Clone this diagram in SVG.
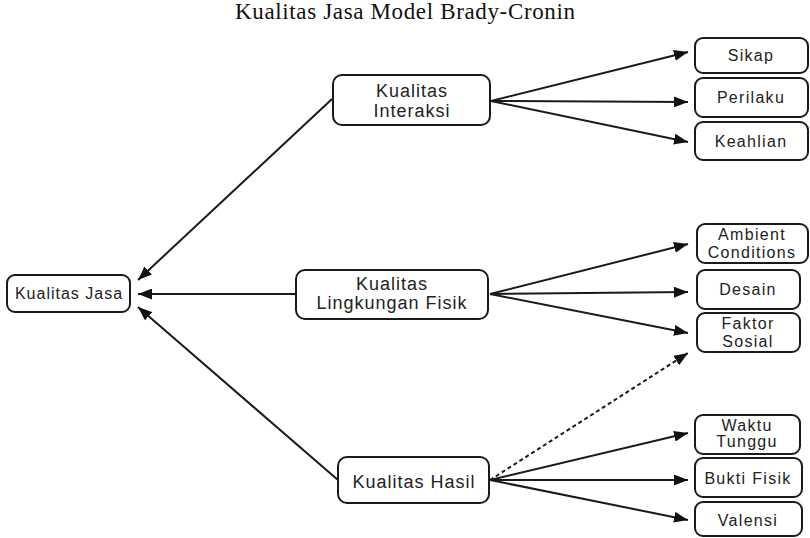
<svg xmlns="http://www.w3.org/2000/svg" width="810" height="538" viewBox="0 0 810 538">
<style>
.box{fill:#fff;stroke:#1a1a1a;stroke-width:2}
.lbl{font-family:"Liberation Sans",Arial,sans-serif;fill:#222;text-anchor:middle}
.mid{font-size:18px;letter-spacing:1px}
.sm{font-size:16px;letter-spacing:1.3px}
.ttl{font-family:"Liberation Serif","Times New Roman",serif;font-size:23px;fill:#111;text-anchor:middle}
.con{stroke:#1a1a1a;stroke-width:2;fill:none}
.dash{stroke-dasharray:4 3}
</style>
<defs>
<marker id="ah" markerUnits="userSpaceOnUse" markerWidth="15" markerHeight="11" refX="14" refY="5.5" orient="auto">
<path d="M0,0 L14,5.5 L0,11 z" fill="#111"/>
</marker>
</defs>
<rect width="810" height="538" fill="#fff"/>
<text class="ttl" x="405" y="19" textLength="340">Kualitas Jasa Model Brady-Cronin</text>
<g id="connectors">
<path class="con" d="M332 99 L138 280" marker-end="url(#ah)"/>
<path class="con" d="M296 294 L138 294" marker-end="url(#ah)"/>
<path class="con" d="M338 480 L138 307" marker-end="url(#ah)"/>
<path class="con" d="M491 101 L688 52" marker-end="url(#ah)"/>
<path class="con" d="M491 101 L688 102" marker-end="url(#ah)"/>
<path class="con" d="M491 101 L688 142" marker-end="url(#ah)"/>
<path class="con" d="M490 294 L688 244" marker-end="url(#ah)"/>
<path class="con" d="M490 294 L688 292" marker-end="url(#ah)"/>
<path class="con" d="M490 294 L688 333" marker-end="url(#ah)"/>
<path class="con dash" d="M490 480 L688 353" marker-end="url(#ah)"/>
<path class="con" d="M490 480 L688 433" marker-end="url(#ah)"/>
<path class="con" d="M490 480 L688 480" marker-end="url(#ah)"/>
<path class="con" d="M490 480 L688 520" marker-end="url(#ah)"/>
</g>
<g id="kualitas-jasa">
<rect class="box" x="7" y="275" width="123" height="37" rx="8"/>
<text class="lbl" x="69" y="299" font-size="16" letter-spacing="1">Kualitas Jasa</text>
</g>
<g id="kualitas-interaksi">
<rect class="box" x="333" y="75" width="157" height="50" rx="9"/>
<text class="lbl mid" x="412" y="97">Kualitas</text>
<text class="lbl mid" x="412" y="117">Interaksi</text>
</g>
<g id="kualitas-lingkungan-fisik">
<rect class="box" x="296" y="270" width="192" height="49" rx="9"/>
<text class="lbl mid" x="392" y="290">Kualitas</text>
<text class="lbl mid" x="392" y="309">Lingkungan Fisik</text>
</g>
<g id="kualitas-hasil">
<rect class="box" x="338" y="457" width="151" height="46" rx="9"/>
<text class="lbl mid" x="414" y="488">Kualitas Hasil</text>
</g>
<g id="sikap">
<rect class="box" x="695" y="38" width="113" height="35" rx="8"/>
<text class="lbl sm" x="751" y="61">Sikap</text>
</g>
<g id="perilaku">
<rect class="box" x="695" y="78" width="113" height="39" rx="8"/>
<text class="lbl sm" x="751" y="103">Perilaku</text>
</g>
<g id="keahlian">
<rect class="box" x="695" y="122" width="113" height="38" rx="8"/>
<text class="lbl sm" x="751" y="147">Keahlian</text>
</g>
<g id="ambient-conditions">
<rect class="box" x="697" y="224" width="111" height="39" rx="8"/>
<text class="lbl sm" x="752" y="240">Ambient</text>
<text class="lbl sm" x="752" y="258">Conditions</text>
</g>
<g id="desain">
<rect class="box" x="697" y="270" width="103" height="39" rx="8"/>
<text class="lbl sm" x="748" y="295">Desain</text>
</g>
<g id="faktor-sosial">
<rect class="box" x="697" y="313" width="103" height="39" rx="8"/>
<text class="lbl sm" x="748" y="329">Faktor</text>
<text class="lbl sm" x="748" y="347">Sosial</text>
</g>
<g id="waktu-tunggu">
<rect class="box" x="695" y="415" width="105" height="39" rx="8"/>
<text class="lbl sm" x="747" y="431">Waktu</text>
<text class="lbl sm" x="747" y="447">Tunggu</text>
</g>
<g id="bukti-fisik">
<rect class="box" x="695" y="458" width="107" height="39" rx="8"/>
<text class="lbl sm" x="748" y="484">Bukti Fisik</text>
</g>
<g id="valensi">
<rect class="box" x="695" y="502" width="107" height="34" rx="8"/>
<text class="lbl sm" x="748" y="526">Valensi</text>
</g>
</svg>
